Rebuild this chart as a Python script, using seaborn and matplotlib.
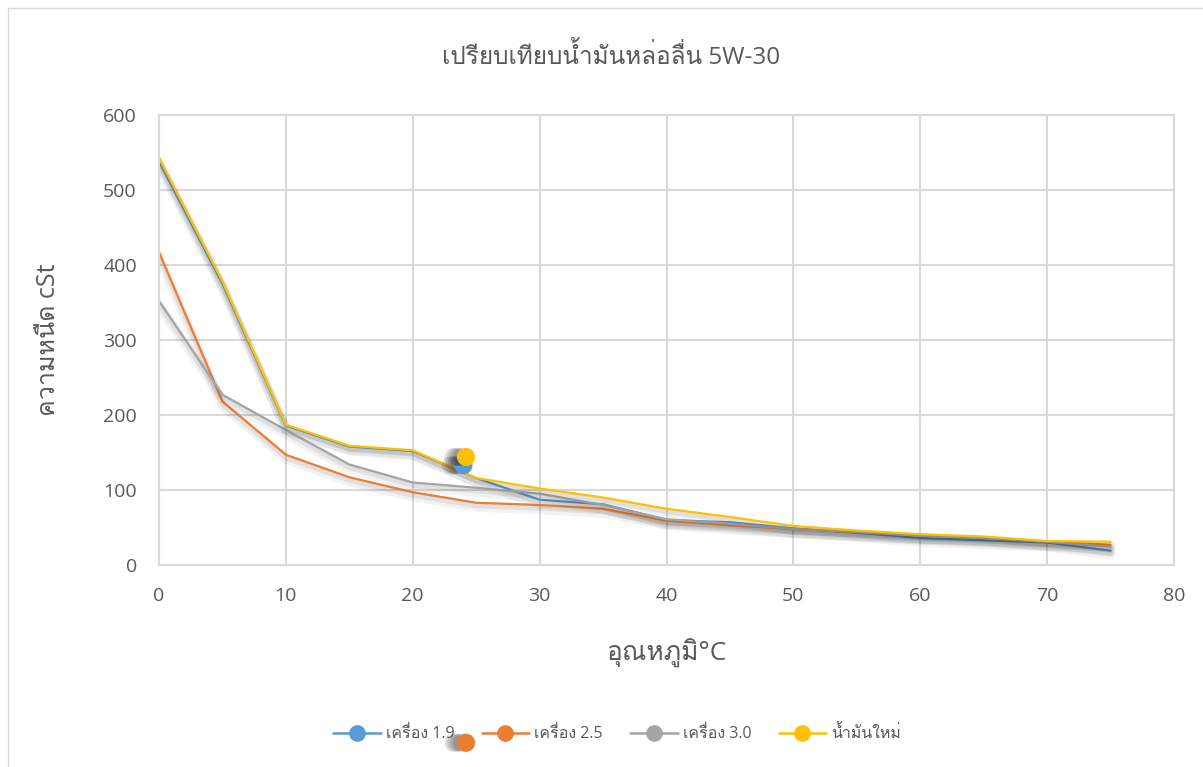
import matplotlib
matplotlib.use('Agg')
import matplotlib.pyplot as plt
import matplotlib.patheffects as pe
from matplotlib import font_manager
from matplotlib.ft2font import FT2Font
from matplotlib.lines import Line2D
from matplotlib.patches import Rectangle
import pandas as pd
import seaborn as sns

# temperature (C) and viscosity (cSt)
temp = [0, 5, 10, 15, 20, 25, 30, 35, 40, 45, 50, 55, 60, 65, 70, 75]
visc_19 = [538, 375, 186, 158, 152, 116, 87, 81, 60, 57, 49, 43, 36, 33, 30, 19]
visc_25 = [417, 218, 147, 117, 97, 83, 80, 75, 59, 53, 48, 44, 40, 37, 31, 27]
visc_30 = [352, 227, 180, 134, 110, 103, 95, 80, 61, 55, 48, 44, 39, 36, 31, 24]
visc_new = [543, 378, 187, 159, 153, 116, 102, 90, 75, 64, 52, 46, 41, 38, 32, 31]

series_names = ['เครื่อง 1.9', 'เครื่อง 2.5', 'เครื่อง 3.0', 'น้ำมันใหม่']
colors = ['#5B9BD5', '#ED7D31', '#A5A5A5', '#FFC000']

# loose markers left lying on the chart
stray_x = [24.0, 24.2, 24.2]
stray_y = [133, 144, -237]
stray_series = ['เครื่อง 1.9', 'น้ำมันใหม่', 'เครื่อง 2.5']


def thai_family():
    for f in font_manager.fontManager.ttflist:
        try:
            if 0x0E01 in FT2Font(f.fname).get_charmap():
                return f.name
        except Exception:
            pass
    return None


sns.set_style('white')
fams = ['Open Sans']
tf = thai_family()
if tf:
    fams.append(tf)
fams.append('DejaVu Sans')
plt.rcParams['font.family'] = fams

df = pd.DataFrame({
    'temp': temp * 4,
    'visc': visc_19 + visc_25 + visc_30 + visc_new,
    'series': sum([[n] * len(temp) for n in series_names], []),
})

fig = plt.figure(figsize=(12.03, 7.67), dpi=100)
ax = fig.add_axes([159 / 1203, 1 - 565 / 767, (1174 - 159) / 1203, (565 - 115) / 767])

sns.lineplot(data=df, x='temp', y='visc', hue='series', hue_order=series_names,
             palette=colors, linewidth=1.6, ax=ax, legend=False)
for ln in ax.lines:
    ln.set_path_effects([pe.SimpleLineShadow(offset=(0, -3), shadow_color='k', alpha=0.05, linewidth=7),
                         pe.SimpleLineShadow(offset=(0, -2), shadow_color='k', alpha=0.07, linewidth=4),
                         pe.Normal()])

# soft dark blur to the left of the loose markers
blur = [pe.SimplePatchShadow(offset=(-o, 0), shadow_rgbFace='k', alpha=0.12) for o in (9, 7, 5, 3)]
pal = dict(zip(series_names, colors))
for sx, sy, s in zip(stray_x, stray_y, stray_series):
    ax.scatter([sx], [sy], s=170, color=pal[s], zorder=5, clip_on=False, linewidths=0,
               path_effects=blur + [pe.Normal()])

ax.set_xlim(0, 80)
ax.set_ylim(0, 600)
ax.set_xticks(range(0, 81, 10))
ax.set_yticks(range(0, 601, 100))
ax.grid(True, color='#D9D9D9', linewidth=1.5)
for sp in ax.spines.values():
    sp.set_color('#D9D9D9')
    sp.set_linewidth(1.5)
ax.tick_params(length=0, labelsize=14, labelcolor='#595959', pad=16)
ax.set_xlabel('อุณหภูมิ°C', fontsize=19, color='#595959', labelpad=24)
ax.set_ylabel('ความหนืด cSt', fontsize=18, color='#595959', labelpad=30)

fig.text(611 / 1203, 1 - 57 / 767, 'เปรียบเทียบน้ำมันหล่อลื่น 5W-30', ha='center', va='center',
         fontsize=17.5, color='#595959')

handles = [Line2D([0], [0], color=c, lw=1.8, marker='o', markersize=11) for c in colors]
fig.legend(handles, series_names, loc='center', bbox_to_anchor=(617 / 1203, 1 - 734 / 767),
           ncol=4, frameon=False, fontsize=11.5, labelcolor='#595959', handlelength=3.0,
           columnspacing=1.7, handletextpad=0.3)

fig.patches.append(Rectangle((8 / 1203, -0.1), 1.5, 1.1 - 8 / 767, transform=fig.transFigure,
                             fill=False, ec='#D9D9D9', lw=1))

fig.savefig('out.png', dpi=100)
